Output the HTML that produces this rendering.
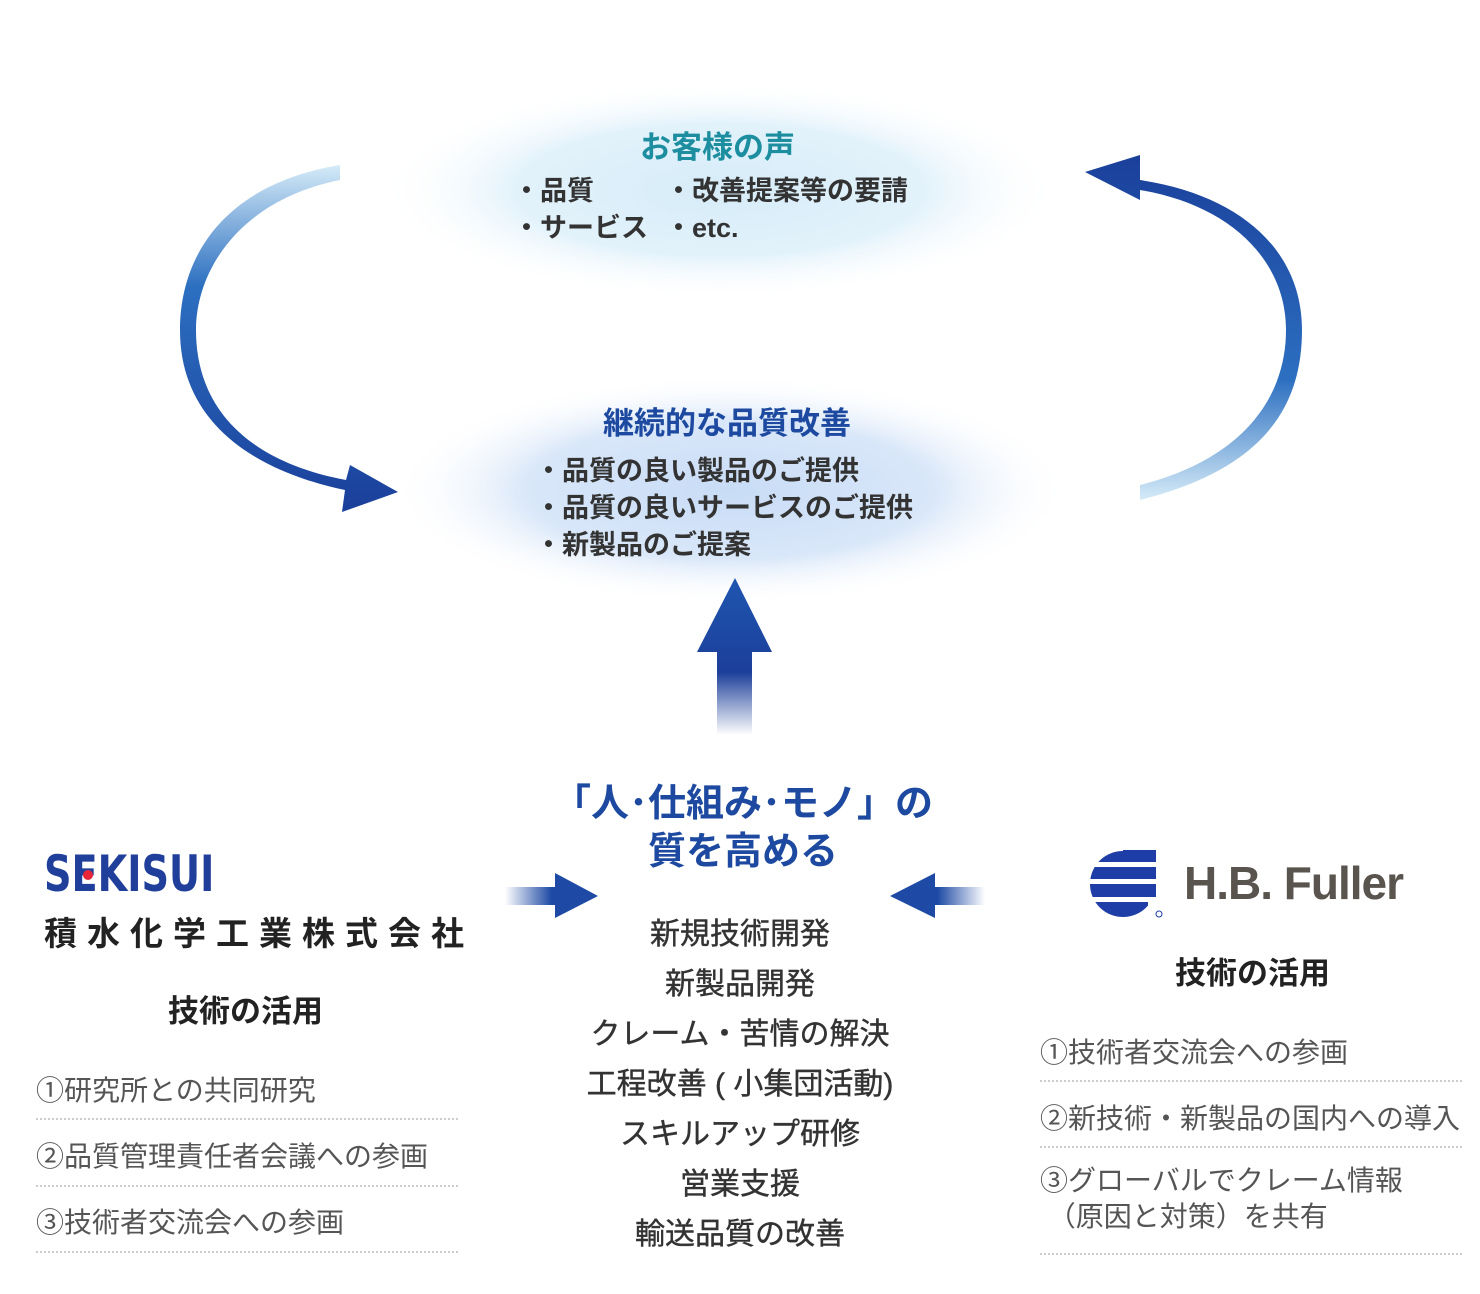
<!DOCTYPE html>
<html><head><meta charset="utf-8"><style>
body{margin:0;width:1480px;height:1294px;background:#fff;position:relative;overflow:hidden;font-family:"Liberation Sans","Noto Sans CJK JP",sans-serif;}
.t{position:absolute;white-space:nowrap;}
.b{font-weight:bold;}
.line{position:absolute;border-top:2px dotted #ccc;height:0;}
</style></head><body>
<svg width="1480" height="1294" style="position:absolute;left:0;top:0">
<defs>
<radialGradient id="e1" cx="50%" cy="50%" r="50%">
<stop offset="0" stop-color="#d6ecf8"/><stop offset="0.6" stop-color="#e2f2fb"/><stop offset="1" stop-color="#fff" stop-opacity="0"/></radialGradient>
<radialGradient id="e2" cx="50%" cy="50%" r="50%">
<stop offset="0" stop-color="#c8dcf6"/><stop offset="0.6" stop-color="#d9e7f9"/><stop offset="1" stop-color="#fff" stop-opacity="0"/></radialGradient>
<linearGradient id="la" x1="0" y1="0" x2="0" y2="1"><stop offset="0" stop-color="#d5ebf8"/><stop offset="0.35" stop-color="#2c6fc0"/><stop offset="1" stop-color="#1a3f9a"/></linearGradient>
<linearGradient id="ra" x1="0" y1="1" x2="0" y2="0"><stop offset="0" stop-color="#d5ebf8"/><stop offset="0.35" stop-color="#2c6fc0"/><stop offset="1" stop-color="#1a3f9a"/></linearGradient>
<linearGradient id="ua" x1="0" y1="1" x2="0" y2="0"><stop offset="0" stop-color="#fff"/><stop offset="0.4" stop-color="#1c3f9a"/><stop offset="1" stop-color="#1e56b0"/></linearGradient>
<linearGradient id="sl" x1="0" y1="0" x2="1" y2="0"><stop offset="0" stop-color="#fff"/><stop offset="0.5" stop-color="#1e4aa5"/></linearGradient>
<linearGradient id="sr" x1="1" y1="0" x2="0" y2="0"><stop offset="0" stop-color="#fff"/><stop offset="0.5" stop-color="#1e4aa5"/></linearGradient>
</defs>
<ellipse cx="720" cy="190" rx="340" ry="110" fill="url(#e1)"/>
<ellipse cx="730" cy="490" rx="340" ry="115" fill="url(#e2)"/>
<path d="M340,165 C220,185 180,260 180,330 C180,420 250,470 345,490 L342,512 L398,492 L350,465 L346,480 C250,462 196,410 196,330 C196,270 240,200 340,180 Z" fill="url(#la)"/>
<path d="M1140,500 C1260,470 1302,410 1302,330 C1302,250 1240,195 1140,180 L1140,155 L1085,172 L1140,200 L1140,190 C1230,205 1286,260 1286,330 C1286,400 1240,460 1140,485 Z" fill="url(#ra)"/>
<path d="M717,735 L717,652 L697,652 L735,578 L772,652 L752,652 L752,735 Z" fill="url(#ua)"/>
<path d="M505,887 L555,887 L555,873 L598,896 L555,918 L555,905 L505,905 Z" fill="url(#sl)"/>
<path d="M985,887 L935,887 L935,873 L890,896 L935,918 L935,905 L985,905 Z" fill="url(#sr)"/>
<clipPath id="hc"><circle cx="1123" cy="884" r="33"/></clipPath>
<g clip-path="url(#hc)" fill="#1f3da6">
<rect x="1085" y="850" width="75" height="12"/><rect x="1085" y="867" width="75" height="12"/><rect x="1085" y="884" width="75" height="13"/><rect x="1085" y="902" width="75" height="16"/>
</g>
<rect x="1148" y="848" width="20" height="72" fill="#fff"/>
<rect x="1123" y="850" width="33" height="12" fill="#1f3da6"/><rect x="1123" y="867" width="33" height="12" fill="#1f3da6"/><rect x="1123" y="884" width="33" height="13" fill="#1f3da6"/>
<circle cx="1159" cy="914" r="3" fill="none" stroke="#1f3da6" stroke-width="1"/>
</svg>

<div class="t b" style="left:640px;top:122px;font-size:31px;color:#1d8ea0">お客様の声</div>
<div class="t b" style="left:513px;top:173px;font-size:27px;color:#333;line-height:37px">・品質<br>・サービス</div>
<div class="t b" style="left:665px;top:173px;font-size:27px;color:#333;line-height:37px">・改善提案等の要請<br>・etc.</div>

<div class="t b" style="left:603px;top:398px;font-size:31px;color:#1d4aa0">継続的な品質改善</div>
<div class="t b" style="left:535px;top:453px;font-size:27px;color:#333;line-height:37px">・品質の良い製品のご提供<br>・品質の良いサービスのご提供<br>・新製品のご提案</div>

<div class="t b" style="left:548px;top:780px;font-size:38px;color:#1d4aa0;line-height:48px;text-align:center;width:390px">「人･仕組み･モノ」の<br>質を高める</div>

<div class="t" style="left:565px;top:910px;width:350px;text-align:center;font-size:30px;color:#333;line-height:50px;-webkit-text-stroke:0.4px #333">新規技術開発<br>新製品開発<br>クレーム・苦情の解決<br>工程改善 ( 小集団活動)<br>スキルアップ研修<br>営業支援<br>輸送品質の改善</div>

<div class="t b" style="left:44px;top:845px;font-size:50px;color:#1f3f9a;transform:scaleX(0.85);transform-origin:left;font-family:'DejaVu Sans Condensed','Liberation Sans',sans-serif">SEKISUI</div>
<div style="position:absolute;left:83px;top:870px;width:10px;height:10px;border-radius:50%;background:#e8263a"></div>
<div class="t b" style="left:44px;top:907px;font-size:33px;color:#222;letter-spacing:10px">積水化学工業株式会社</div>

<div class="t b" style="left:168px;top:986px;font-size:31px;color:#222">技術の活用</div>
<div class="t" style="left:36px;top:1069px;font-size:28px;color:#555">①研究所との共同研究</div>
<div class="line" style="left:36px;top:1118px;width:422px"></div>
<div class="t" style="left:36px;top:1135px;font-size:28px;color:#555">②品質管理責任者会議への参画</div>
<div class="line" style="left:36px;top:1185px;width:422px"></div>
<div class="t" style="left:36px;top:1201px;font-size:28px;color:#555">③技術者交流会への参画</div>
<div class="line" style="left:36px;top:1251px;width:422px"></div>

<div class="t b" style="left:1184px;top:856px;font-size:46px;color:#5a544e;font-family:'Liberation Sans',sans-serif;letter-spacing:-1px">H.B. Fuller</div>
<div class="t b" style="left:1175px;top:948px;font-size:31px;color:#222">技術の活用</div>
<div class="t" style="left:1040px;top:1031px;font-size:28px;color:#555">①技術者交流会への参画</div>
<div class="line" style="left:1040px;top:1080px;width:422px"></div>
<div class="t" style="left:1040px;top:1097px;font-size:28px;color:#555">②新技術・新製品の国内への導入</div>
<div class="line" style="left:1040px;top:1146px;width:422px"></div>
<div class="t" style="left:1040px;top:1163px;font-size:28px;color:#555;line-height:36px">③グローバルでクレーム情報<br>&nbsp;（原因と対策）を共有</div>
<div class="line" style="left:1040px;top:1253px;width:422px"></div>
</body></html>
